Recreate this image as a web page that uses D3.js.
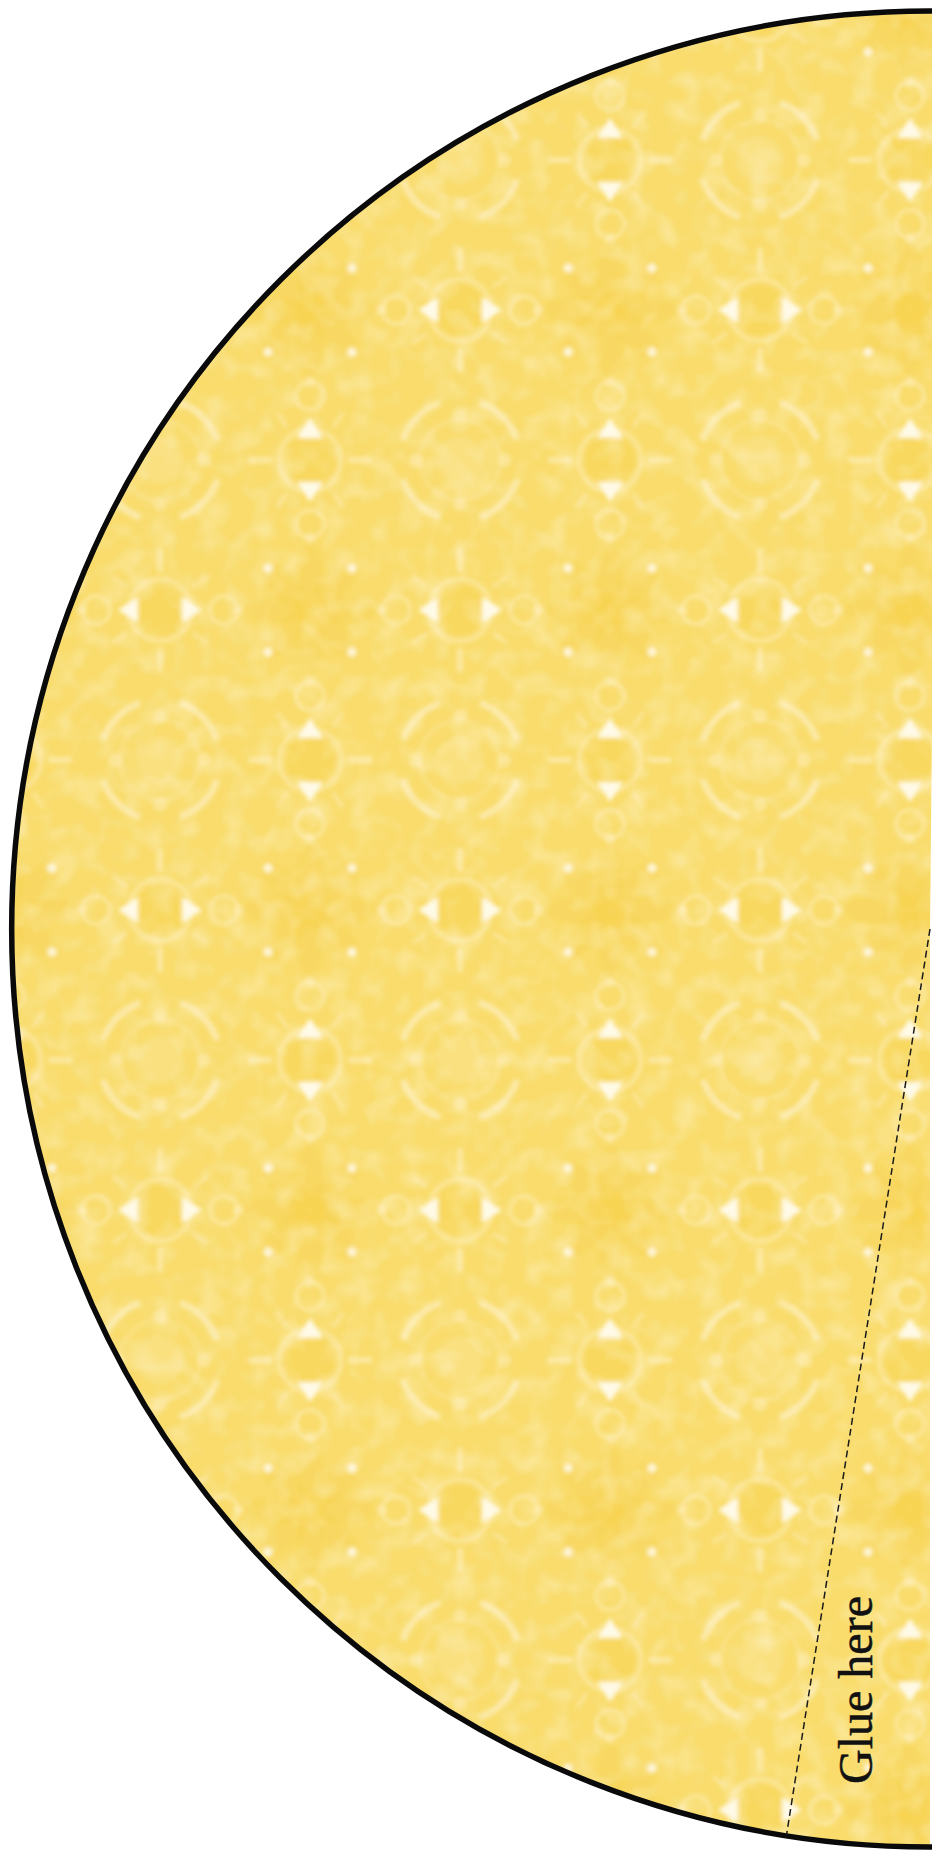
<!DOCTYPE html>
<html><head><meta charset="utf-8">
<script src="https://cdn.jsdelivr.net/npm/d3@7"></script>
<style>html,body{margin:0;padding:0;background:#fff;overflow:hidden}</style>
</head><body>
<svg id="c" width="932" height="1852"></svg>
<script>
// ---- data ----
const sectorStart = [180];      // degrees (d3 convention, 0 = 12 o'clock)
const sectorEnd = [360];
const glueLineAngle = [189];    // radius drawn as dashed fold line
const labels = ["Glue here"];

// ---- layout ----
const W = 932, H = 1852, cx = 930, cy = 929, R = 918;
const deg = d3.scaleLinear().domain([0, 360]).range([0, 2 * Math.PI]);
const svg = d3.select("#c");
const defs = svg.append("defs");

defs.append("filter").attr("id", "soft").attr("x", "-20%").attr("y", "-20%").attr("width", "140%").attr("height", "140%")
  .append("feGaussianBlur").attr("stdDeviation", 2.3);

const nf = defs.append("filter").attr("id", "noise").attr("x", 0).attr("y", 0).attr("width", "100%").attr("height", "100%");
nf.append("feTurbulence").attr("type", "fractalNoise").attr("baseFrequency", 0.04).attr("numOctaves", 2).attr("seed", 5).attr("result", "t");
nf.append("feColorMatrix").attr("in", "t").attr("type", "matrix")
  .attr("values", "0 0 0 0 1  0 0 0 0 0.96  0 0 0 0 0.8  1.5 0 0 0 -0.62");

// pattern tile (pattern space = translated group space, so offset by centre)
const pat = defs.append("pattern").attr("id", "tile").attr("patternUnits", "userSpaceOnUse")
  .attr("x", 10 - cx).attr("y", 10 - cy).attr("width", 300).attr("height", 300);
pat.append("rect").attr("width", 300).attr("height", 300).attr("fill", "#f9dc6c");
const pg = pat.append("g").attr("filter", "url(#soft)");
const LIGHT = "#fdecb2", WHITE = "#fffcee", DARK = "#f7d24c";

function flower(x, y) {
  const g = pg.append("g").attr("transform", `translate(${x},${y})`);
  for (let k = 0; k < 8; k++) {
    g.append("ellipse").attr("cx", 0).attr("cy", -34).attr("rx", 14).attr("ry", 32)
      .attr("transform", `rotate(${k * 45})`).attr("fill", DARK).attr("opacity", 0.35);
  }
  g.append("circle").attr("r", 16).attr("fill", DARK).attr("opacity", 0.4);
  [[-42, -42], [42, -42], [-42, 42], [42, 42]].forEach(p =>
    g.append("circle").attr("cx", p[0]).attr("cy", p[1]).attr("r", 4.5).attr("fill", WHITE).attr("opacity", 0.85));
  [[0, -72], [0, 72], [-72, 0], [72, 0]].forEach(p =>
    g.append("circle").attr("cx", p[0]).attr("cy", p[1]).attr("r", 5).attr("fill", LIGHT).attr("opacity", 0.7));
}
function pair(x, y, rot) {
  const g = pg.append("g").attr("transform", `translate(${x},${y}) rotate(${rot})`);
  g.append("circle").attr("r", 25).attr("fill", DARK).attr("opacity", 0.4);
  g.append("circle").attr("r", 31).attr("fill", "none").attr("stroke", LIGHT).attr("stroke-width", 5).attr("opacity", 0.6);
  [1, -1].forEach(s => {
    g.append("polygon").attr("points", `${s*22},-13 ${s*22},13 ${s*42},0`).attr("fill", WHITE).attr("opacity", 0.95);
    g.append("circle").attr("cx", s * 64).attr("cy", 0).attr("r", 14).attr("fill", "none")
      .attr("stroke", LIGHT).attr("stroke-width", 4).attr("opacity", 0.65);
    g.append("rect").attr("x", -3).attr("y", s > 0 ? 38 : -62).attr("width", 6).attr("height", 24).attr("fill", LIGHT).attr("opacity", 0.75);
    [35, 145].forEach(a => {
      const t = deg(a) * s;
      g.append("line").attr("x1", 40 * Math.cos(t)).attr("y1", 40 * Math.sin(t))
        .attr("x2", 58 * Math.cos(t)).attr("y2", 58 * Math.sin(t))
        .attr("stroke", LIGHT).attr("stroke-width", 4).attr("opacity", 0.6);
    });
  });
}
function ring(x, y) {
  const g = pg.append("g").attr("transform", `translate(${x},${y})`);
  g.append("circle").attr("r", 24).attr("fill", LIGHT).attr("opacity", 0.25);
  g.append("circle").attr("r", 40).attr("fill", "none").attr("stroke", LIGHT).attr("stroke-width", 4).attr("opacity", 0.35);
  const arc = d3.arc().innerRadius(57).outerRadius(64);
  for (let k = 0; k < 4; k++) {
    const c = 45 + 90 * k;
    g.append("path").attr("d", arc({startAngle: deg(c - 26), endAngle: deg(c + 26)}))
      .attr("fill", LIGHT).attr("opacity", 0.85);
  }
  [[0, -44], [0, 44], [-44, 0], [44, 0]].forEach(p =>
    g.append("ellipse").attr("cx", p[0]).attr("cy", p[1]).attr("rx", 7).attr("ry", 7).attr("fill", LIGHT).attr("opacity", 0.6));
}
[[0, 0], [300, 0], [0, 300], [300, 300]].forEach(p => flower(p[0], p[1]));
ring(150, 150);
pair(150, 0, 0); pair(150, 300, 0);
pair(0, 150, 90); pair(300, 150, 90);

// ---- marks ----
const sector = d3.arc().innerRadius(0).outerRadius(R)
  .startAngle(deg(sectorStart[0])).endAngle(deg(sectorEnd[0]) + 0.01);
const gC = svg.append("g").attr("transform", `translate(${cx},${cy})`);
gC.append("path").attr("d", sector()).attr("fill", "url(#tile)");
defs.append("clipPath").attr("id", "clipS").append("path").attr("d", sector()).attr("transform", `translate(${cx},${cy})`);
svg.append("rect").attr("width", W).attr("height", H).attr("filter", "url(#noise)")
  .attr("clip-path", "url(#clipS)").attr("opacity", 0.5);

// outline (curved part only)
const p = d3.path();
p.moveTo(W, cy + R);
p.lineTo(cx, cy + R);
p.arc(cx, cy, R, Math.PI / 2, 3 * Math.PI / 2, false);
p.lineTo(W, cy - R);
svg.append("path").attr("d", p.toString()).attr("fill", "none").attr("stroke", "#0a0a0a").attr("stroke-width", 5.5);

// dashed glue line
glueLineAngle.forEach(a => {
  const t = deg(a);
  svg.append("line").attr("x1", cx).attr("y1", cy)
    .attr("x2", cx + R * Math.sin(t)).attr("y2", cy - R * Math.cos(t))
    .attr("stroke", "#1a1a1a").attr("stroke-width", 1.5).attr("stroke-dasharray", "7,4");
});

// label
svg.selectAll("text.lbl").data(labels).enter().append("text").attr("class", "lbl")
  .attr("transform", "translate(872,1690) rotate(-90)")
  .attr("text-anchor", "middle")
  .attr("font-family", "'Liberation Serif','DejaVu Serif',serif")
  .attr("font-size", 48).attr("fill", "#111")
  .attr("stroke", "#111").attr("stroke-width", 0.5)
  .text(d => d);
</script>
</body></html>
